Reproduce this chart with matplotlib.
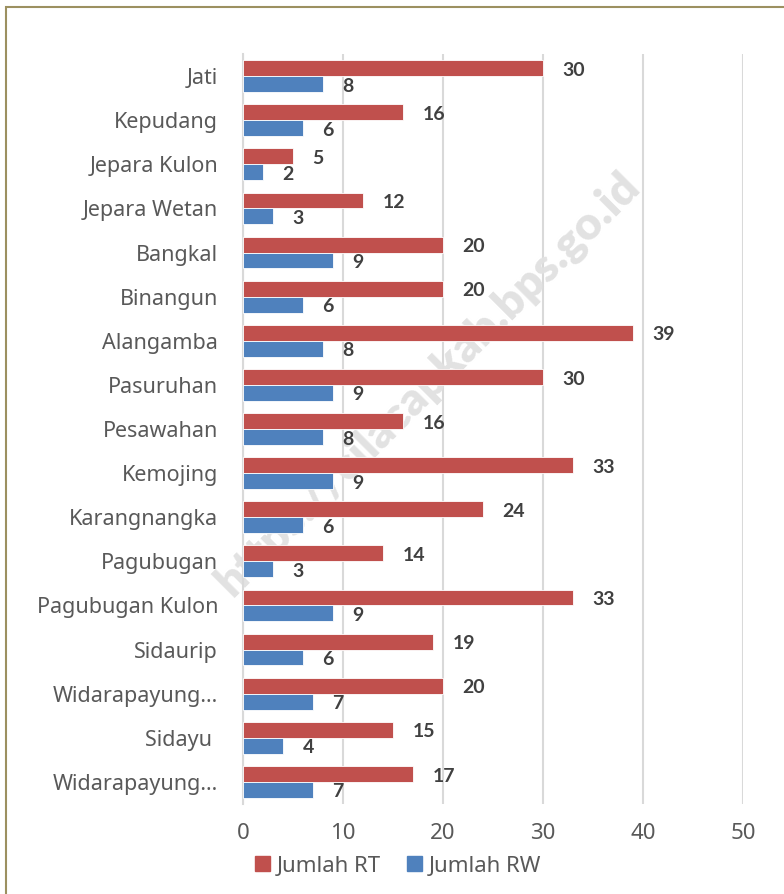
import numpy as np
import matplotlib
matplotlib.use("Agg")
import matplotlib.pyplot as plt
from matplotlib.patches import Rectangle, Patch

# data (top to bottom as shown)
desa = ["Jati", "Kepudang", "Jepara Kulon", "Jepara Wetan", "Bangkal", "Binangun",
        "Alangamba", "Pasuruhan", "Pesawahan", "Kemojing", "Karangnangka", "Pagubugan",
        "Pagubugan Kulon", "Sidaurip", "Widarapayung\u2026", "Sidayu ", "Widarapayung\u2026"]
jumlah_rt = [30, 16, 5, 12, 20, 20, 39, 30, 16, 33, 24, 14, 33, 19, 20, 15, 17]
jumlah_rw = [8, 6, 2, 3, 9, 6, 8, 9, 8, 9, 6, 3, 9, 6, 7, 4, 7]
x_ticks = [0, 10, 20, 30, 40, 50]

red = "#C0504D"
blue = "#4F81BD"
grid_col = "#D9D9D9"
txt_col = "#595959"
lbl_col = "#404040"

plt.rcParams['font.family'] = ['Noto Sans', 'DejaVu Sans']
bold_font = ['Lato', 'DejaVu Sans']

fig = plt.figure(figsize=(7.84, 8.94), dpi=100)
ax = fig.add_axes([243 / 784, 1 - 804 / 894, 500 / 784, 750 / 894])

# chart border (only left/top visible in the crop)
fig.patches.append(Rectangle((6 / 784, -0.05), 1.2, 1 - 7 / 894 + 0.05,
                             transform=fig.transFigure, fill=False,
                             edgecolor="#9C9060", linewidth=1.5))

n = len(desa)
y = np.arange(n)
h = 0.36
ax.barh(y - h / 2, jumlah_rt, height=h, color=red, edgecolor="white", linewidth=0.6, zorder=3)
ax.barh(y + h / 2, jumlah_rw, height=h, color=blue, edgecolor="white", linewidth=0.6, zorder=3)

for i in range(n):
    ax.annotate(str(jumlah_rt[i]), (jumlah_rt[i], y[i] - h / 2), xytext=(14, -1.5),
                textcoords="offset points", va="center", ha="left", family=bold_font,
                fontsize=14, fontweight="bold", color=lbl_col, zorder=4)
    ax.annotate(str(jumlah_rw[i]), (jumlah_rw[i], y[i] + h / 2), xytext=(14, -1.5),
                textcoords="offset points", va="center", ha="left", family=bold_font,
                fontsize=14, fontweight="bold", color=lbl_col, zorder=4)

ax.set_xlim(0, 50)
ax.set_ylim(n - 0.5, -0.5)
ax.set_xticks(x_ticks)
ax.set_yticks(y)
ax.set_yticklabels(desa)
ax.tick_params(axis="both", length=0, colors=txt_col, labelsize=15.5)
ax.tick_params(axis="y", pad=18)
ax.tick_params(axis="x", pad=14, labelsize=16)
ax.grid(axis="x", color=grid_col, linewidth=1.5, zorder=0)
ax.set_axisbelow(True)
for s in ["top", "right", "bottom"]:
    ax.spines[s].set_visible(False)
ax.spines["left"].set_color(grid_col)
ax.spines["left"].set_linewidth(1.5)

# watermark
ax.text(0.37, 0.56, "https://cilacapkab.bps.go.id", transform=ax.transAxes,
        rotation=45, ha="center", va="center", fontsize=33, fontweight="heavy",
        family=bold_font, color="#E2E2E2", zorder=1)

handles = [Patch(color=red, label="Jumlah RT"), Patch(color=blue, label="Jumlah RW")]
fig.legend(handles=handles, loc="center", bbox_to_anchor=(398 / 784, 1 - 866 / 894),
           ncol=2, frameon=False, fontsize=16, labelcolor=txt_col,
           handlelength=0.65, handleheight=0.65, handletextpad=0.3, columnspacing=1.2)

fig.savefig("out.png", dpi=100, facecolor="white")
